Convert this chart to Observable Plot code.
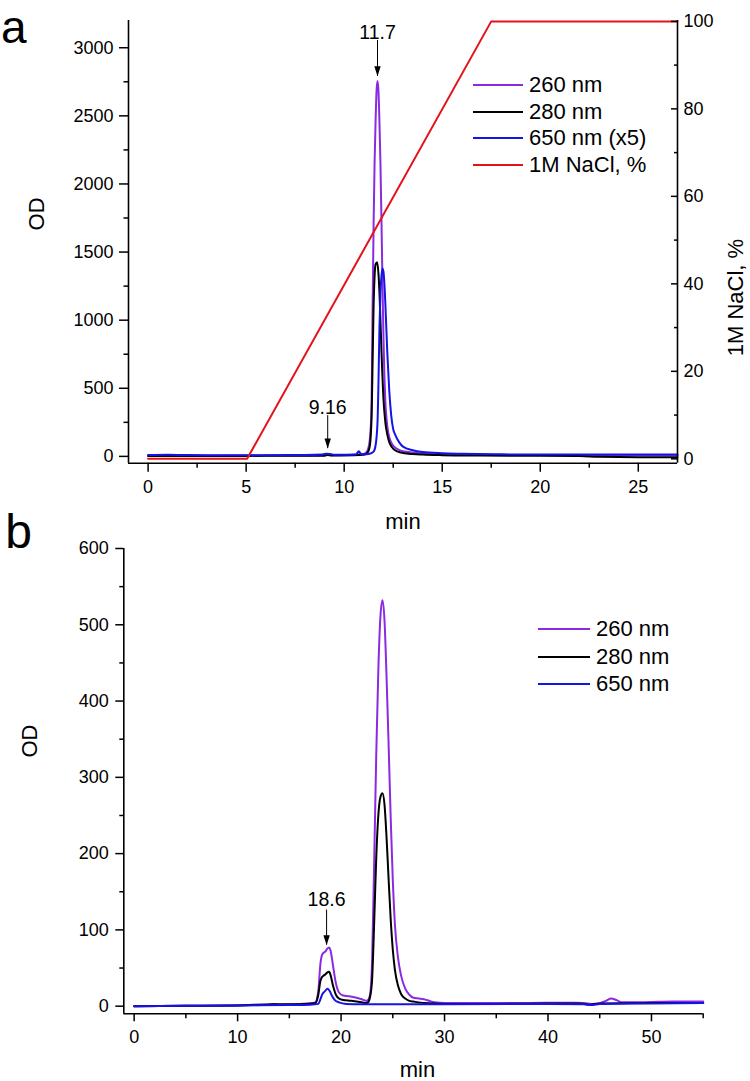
<!DOCTYPE html>
<html>
<head>
<meta charset="utf-8">
<script src="https://cdn.jsdelivr.net/npm/d3@7"></script>
<script src="https://cdn.jsdelivr.net/npm/@observablehq/plot@0.6"></script>
<style>
  html, body { margin: 0; padding: 0; background: #fff; }
  #wrap { position: relative; width: 750px; height: 1081px; overflow: hidden; font-family: "Liberation Sans", Arial, sans-serif; }
  .panel { position: absolute; left: 0; }
  .leg { position: absolute; display: flex; align-items: center; height: 30px; font-size: 22px; line-height: 30px; color: #000; white-space: nowrap; }
  .leg .ln { display: inline-block; height: 0; border-top: 2px solid; }
  .letter { position: absolute; font-size: 46px; line-height: 26px; height: 26px; overflow: visible; color: #000; }
</style>
</head>
<body>
<div id="wrap">
  <div id="pa" class="panel" style="top:0"></div>
  <div id="pb" class="panel" style="top:530px"></div>
  <div class="letter" style="left:1px; top:13.5px;">a</div>
</div>
<script>
// ---------------- DATA: panel a ----------------
const a260x = [0, 2, 4, 6, 8, 9.0, 9.16, 9.35, 10, 10.6, 10.75, 10.9, 11.1, 11.25, 11.35, 11.4, 11.45, 11.5, 11.55, 11.6, 11.65, 11.7, 11.75, 11.8, 11.85, 11.9, 11.95, 12.0, 12.05, 12.1, 12.2, 12.3, 12.45, 12.6, 12.8, 13.0, 13.5, 14, 15, 17, 20, 23, 27];
const a260y = [5, 5, 6, 6, 7, 8, 14, 9, 10, 14, 30, 16, 25, 70, 200, 400, 1100, 1700, 2150, 2450, 2680, 2755, 2680, 2450, 2150, 1750, 1300, 900, 600, 400, 220, 140, 90, 65, 48, 38, 28, 22, 16, 12, 10, 9, 8];

const a280x = [0, 3, 6, 9, 9.16, 9.35, 10.5, 11, 11.2, 11.3, 11.4, 11.45, 11.5, 11.55, 11.6, 11.68, 11.75, 11.8, 11.85, 11.9, 11.95, 12.0, 12.1, 12.2, 12.3, 12.45, 12.6, 12.8, 13, 13.5, 14, 15, 17, 20, 22, 23, 25, 27];
const a280y = [3, 3, 4, 5, 10, 6, 8, 12, 30, 70, 300, 700, 1100, 1320, 1410, 1425, 1340, 1200, 1000, 780, 590, 430, 250, 160, 105, 65, 45, 32, 25, 17, 13, 9, 6, 4, 2, -3, -6, -6];

const a650x = [0, 1, 2, 4, 6, 8, 8.9, 9.1, 9.3, 9.5, 10, 10.6, 10.75, 10.85, 11, 11.3, 11.5, 11.6, 11.7, 11.75, 11.8, 11.85, 11.9, 11.95, 12.0, 12.05, 12.1, 12.2, 12.3, 12.4, 12.5, 12.6, 12.8, 13, 13.5, 14, 15, 16, 18, 20, 22, 24, 27];
const a650y = [10, 12, 10, 9, 9, 10, 14, 20, 17, 12, 12, 14, 38, 16, 15, 20, 35, 80, 250, 550, 950, 1200, 1320, 1380, 1360, 1270, 1120, 760, 480, 300, 200, 160, 105, 72, 45, 32, 23, 19, 15, 14, 14, 14, 14];

const naclX = [0, 5.05, 17.5, 27];
const naclY = [0, 0, 100, 100];

const annAt = [9.16, 11.7];
const annAlabel = ["9.16", "11.7"];
const annAtip = [57, 2790];
const annAtail = [299, 3053];

const legAlabels = ["260 nm", "280 nm", "650 nm (x5)", "1M NaCl, %"];
const legAcolors = ["#8a2be2", "#000000", "#1414e6", "#e3121b"];

const xTicksA = [0, 5, 10, 15, 20, 25];
const xMinorA = [2.5, 7.5, 12.5, 17.5, 22.5];
const yTicksA = [0, 500, 1000, 1500, 2000, 2500, 3000];
const yMinorA = [250, 750, 1250, 1750, 2250, 2750];
const rTicksA = [0, 20, 40, 60, 80, 100];
const rMinorA = [10, 30, 50, 70, 90];

// ---------------- DATA: panel b ----------------
const b260x = [0, 5, 10, 13, 13.5, 14, 16, 17.5, 17.8, 18.0, 18.15, 18.3, 18.5, 18.65, 18.85, 19.0, 19.2, 19.5, 19.8, 20.2, 20.8, 21.5, 22.0, 22.4, 22.6, 22.8, 23.0, 23.2, 23.4, 23.6, 23.8, 24.0, 24.2, 24.4, 24.6, 24.8, 25.0, 25.2, 25.5, 25.8, 26.2, 26.6, 27.0, 27.5, 28.0, 28.5, 29.0, 30, 33, 36, 40, 42.5, 43.5, 44.2, 45, 45.6, 46.1, 46.6, 47.2, 48, 50, 52, 55];
const b260y = [0, 0.5, 1, 2, 3, 2, 3, 5, 20, 55, 67, 70, 72, 75, 77, 72, 55, 30, 18, 14, 13, 11, 9, 7, 8, 15, 60, 190, 330, 440, 510, 532, 505, 430, 340, 245, 165, 108, 64, 40, 23, 15, 11, 10, 9, 7, 5, 4, 4, 4, 4.5, 4.5, 4, 3, 4, 7, 10, 8, 5, 5, 5.5, 6, 6];

const b280x = [0, 5, 10, 13.5, 16, 17.5, 17.8, 18.0, 18.15, 18.3, 18.5, 18.65, 18.85, 19.0, 19.2, 19.5, 19.8, 20.2, 21, 22, 22.4, 22.6, 22.8, 23.0, 23.2, 23.4, 23.6, 23.8, 24.0, 24.2, 24.4, 24.6, 24.8, 25.0, 25.2, 25.5, 25.8, 26.2, 26.6, 27, 28, 30, 35, 40, 43, 44, 45, 50, 55];
const b280y = [0, 0.5, 1, 2.5, 2.5, 4, 15, 33, 38, 40, 42, 44, 45, 40, 28, 15, 10, 8, 7, 5, 4, 5, 12, 35, 110, 195, 250, 274, 279, 264, 220, 165, 113, 74, 48, 27, 16, 10, 7, 6, 4, 3, 3, 3.5, 3.5, 2, 3.5, 4, 4];

const b650x = [0, 5, 10, 15, 17, 17.8, 18.0, 18.2, 18.4, 18.7, 18.9, 19.1, 19.4, 19.8, 20.5, 22, 25, 30, 40, 43.5, 44.2, 45, 50, 55];
const b650y = [0, 0.5, 1, 1.5, 2, 3, 9, 16, 19, 23, 20, 14, 8, 5, 3, 2.5, 2.5, 2.5, 3, 2.5, 1.5, 3, 3.5, 4];

const annBt = [18.6];
const annBlabel = ["18.6"];
const annBtip = [80];
const annBtail = [126];

const legBlabels = ["260 nm", "280 nm", "650 nm"];
const legBcolors = ["#8a2be2", "#000000", "#1414e6"];

const xTicksB = [0, 10, 20, 30, 40, 50];
const xMinorB = [5, 15, 25, 35, 45, 55];
const yTicksB = [0, 100, 200, 300, 400, 500, 600];
const yMinorB = [50, 150, 250, 350, 450, 550];

// ---------------- helpers ----------------
const pts = (xs, ys) => xs.map((x, i) => ({x, y: ys[i]}));
const font = "'Liberation Sans', Arial, sans-serif";
const narrow = "'Liberation Sans Narrow', 'Arial Narrow', 'Liberation Sans', sans-serif";
const baseStyle = {fontFamily: font, fontSize: "18px", color: "#000", background: "transparent", overflow: "visible"};
const arrowHead = { draw(ctx) { ctx.moveTo(0, 0); ctx.lineTo(-3.2, -10); ctx.lineTo(3.2, -10); ctx.closePath(); } };
const blank = () => "";

// ---------------- Panel a ----------------
const xDomA = [-1, 27], yDomA = [-50, 3200], rDomA = [-1, 100.2];
const toOD = p => yDomA[0] + (p - rDomA[0]) * (yDomA[1] - yDomA[0]) / (rDomA[1] - rDomA[0]);
const fromOD = v => rDomA[0] + (v - yDomA[0]) * (rDomA[1] - rDomA[0]) / (yDomA[1] - yDomA[0]);
const annA = annAt.map((t, i) => ({t, label: annAlabel[i], tip: annAtip[i], tail: annAtail[i]}));

const plotA = Plot.plot({
  width: 750, height: 530,
  marginTop: 20, marginBottom: 67.3, marginLeft: 128, marginRight: 73,
  x: {domain: xDomA, label: null},
  y: {domain: yDomA, label: null},
  style: baseStyle,
  marks: [
    Plot.line(pts(a260x, a260y), {x: "x", y: "y", stroke: legAcolors[0], strokeWidth: 2, curve: "monotone-x"}),
    Plot.line(pts(a280x, a280y), {x: "x", y: "y", stroke: legAcolors[1], strokeWidth: 2, curve: "monotone-x"}),
    Plot.line(pts(a650x, a650y), {x: "x", y: "y", stroke: legAcolors[2], strokeWidth: 2, curve: "monotone-x"}),
    Plot.line(pts(naclX, naclY), {x: "x", y: d => toOD(d.y), stroke: legAcolors[3], strokeWidth: 2}),
    // annotations
    Plot.ruleX(annA, {x: "t", y1: "tail", y2: "tip", stroke: "#000", strokeWidth: 1}),
    Plot.dot(annA, {x: "t", y: "tip", symbol: arrowHead, fill: "#000", stroke: "none", r: 4}),
    Plot.text(annA, {x: "t", y: "tail", text: "label", dy: -2, lineAnchor: "bottom", fontSize: 19.5, fontFamily: narrow, fill: "#000"}),
    // axis lines
    Plot.ruleX([xDomA[0]], {stroke: "#000", strokeWidth: 1.6}),
    Plot.ruleX([xDomA[1]], {stroke: "#000", strokeWidth: 1.6}),
    Plot.ruleY([yDomA[0]], {stroke: "#000", strokeWidth: 1.6}),
    // left axis
    Plot.axisY({ticks: yTicksA, tickSize: 9, tickPadding: 6, strokeWidth: 1.5, label: null, tickFormat: d => String(d), fill: "#000"}),
    Plot.axisY({ticks: yMinorA, tickSize: 4.5, tickPadding: 0, strokeWidth: 1.5, label: null, tickFormat: blank}),
    // bottom axis
    Plot.axisX({ticks: xTicksA, tickSize: 9, tickPadding: 8.3, strokeWidth: 1.5, label: null, tickFormat: d => String(d), fill: "#000"}),
    Plot.axisX({ticks: xMinorA, tickSize: 5, tickPadding: 0, strokeWidth: 1.5, label: null, tickFormat: blank}),
    // right axis (1M NaCl %), ticks inward
    Plot.axisY({anchor: "right", ticks: rTicksA.map(toOD), tickSize: 7, dx: -7, strokeWidth: 1.5, label: null, tickFormat: blank}),
    Plot.axisY({anchor: "right", ticks: rMinorA.map(toOD), tickSize: 4, dx: -4, strokeWidth: 1.5, label: null, tickFormat: blank}),
    Plot.axisY({anchor: "right", ticks: rTicksA.map(toOD), tickSize: 0, tickPadding: 6, label: null, tickFormat: d => String(Math.round(fromOD(d))), fill: "#000"}),
    // axis titles
    Plot.text(["OD"], {text: d => d, frameAnchor: "left", dx: -92, dy: -11.4, rotate: -90, fontSize: 22, fill: "#000"}),
    Plot.text(["1M NaCl, %"], {text: d => d, frameAnchor: "right", dx: 58, dy: -3, rotate: -90, fontSize: 22, fill: "#000"}),
    Plot.text(["min"], {text: d => d, frameAnchor: "bottom", dx: 0, dy: 65.3, lineAnchor: "bottom", fontSize: 22, fill: "#000"})
  ]
});
document.getElementById("pa").appendChild(plotA);

// ---------------- Panel b ----------------
const xDomB = [-1, 55], yDomB = [-10, 600];
const annB = annBt.map((t, i) => ({t, label: annBlabel[i], tip: annBtip[i], tail: annBtail[i]}));

const plotB = Plot.plot({
  width: 750, height: 551,
  marginTop: 18, marginBottom: 67.7, marginLeft: 123.3, marginRight: 47.3,
  x: {domain: xDomB, label: null},
  y: {domain: yDomB, label: null},
  style: baseStyle,
  marks: [
    Plot.line(pts(b260x, b260y), {x: "x", y: "y", stroke: legBcolors[0], strokeWidth: 2, curve: "monotone-x"}),
    Plot.line(pts(b280x, b280y), {x: "x", y: "y", stroke: legBcolors[1], strokeWidth: 2, curve: "monotone-x"}),
    Plot.line(pts(b650x, b650y), {x: "x", y: "y", stroke: legBcolors[2], strokeWidth: 2, curve: "monotone-x"}),
    Plot.ruleX(annB, {x: "t", y1: "tail", y2: "tip", stroke: "#000", strokeWidth: 1}),
    Plot.dot(annB, {x: "t", y: "tip", symbol: arrowHead, fill: "#000", stroke: "none", r: 4}),
    Plot.text(annB, {x: "t", y: "tail", text: "label", dy: -4, lineAnchor: "bottom", fontSize: 19.5, fontFamily: narrow, fill: "#000"}),
    Plot.ruleX([xDomB[0]], {stroke: "#000", strokeWidth: 1.6}),
    Plot.ruleY([yDomB[0]], {stroke: "#000", strokeWidth: 1.6}),
    Plot.axisY({ticks: yTicksB, tickSize: 8, tickPadding: 7, strokeWidth: 1.5, label: null, tickFormat: d => String(d), fill: "#000"}),
    Plot.axisY({ticks: yMinorB, tickSize: 4, tickPadding: 0, strokeWidth: 1.5, label: null, tickFormat: blank}),
    Plot.axisX({ticks: xTicksB, tickSize: 8, tickPadding: 8.7, strokeWidth: 1.5, label: null, tickFormat: d => String(d), fill: "#000"}),
    Plot.axisX({ticks: xMinorB, tickSize: 5, tickPadding: 0, strokeWidth: 1.5, label: null, tickFormat: blank}),
    Plot.text(["OD"], {text: d => d, frameAnchor: "left", dx: -94.3, dy: -23.6, rotate: -90, fontSize: 22, fill: "#000"}),
    Plot.text(["min"], {text: d => d, frameAnchor: "bottom", dx: 4, dy: 63, lineAnchor: "bottom", fontSize: 22, fill: "#000"}),
    Plot.text(["b"], {text: d => d, frameAnchor: "top-left", dx: -118.5, dy: -1, textAnchor: "start", lineAnchor: "bottom", fontSize: 48, fill: "#000"})
  ]
});
document.getElementById("pb").appendChild(plotB);

// ---------------- Legends (HTML overlays) ----------------
function legend(labels, colors, ys, lineX, lineW, gap) {
  const wrap = document.getElementById("wrap");
  labels.forEach((lab, i) => {
    const row = document.createElement("div");
    row.className = "leg";
    row.style.left = lineX + "px";
    row.style.top = (ys[i] - 15) + "px";
    const ln = document.createElement("span");
    ln.className = "ln";
    ln.style.width = lineW + "px";
    ln.style.borderTopColor = colors[i];
    const tx = document.createElement("span");
    tx.textContent = lab;
    tx.style.marginLeft = gap + "px";
    row.appendChild(ln);
    row.appendChild(tx);
    wrap.appendChild(row);
  });
}
legend(legAlabels, legAcolors, [85, 111.7, 137.8, 165], 473, 50, 6);
legend(legBlabels, legBcolors, [629, 656.7, 684.3], 538, 52, 6);
</script>
</body>
</html>
